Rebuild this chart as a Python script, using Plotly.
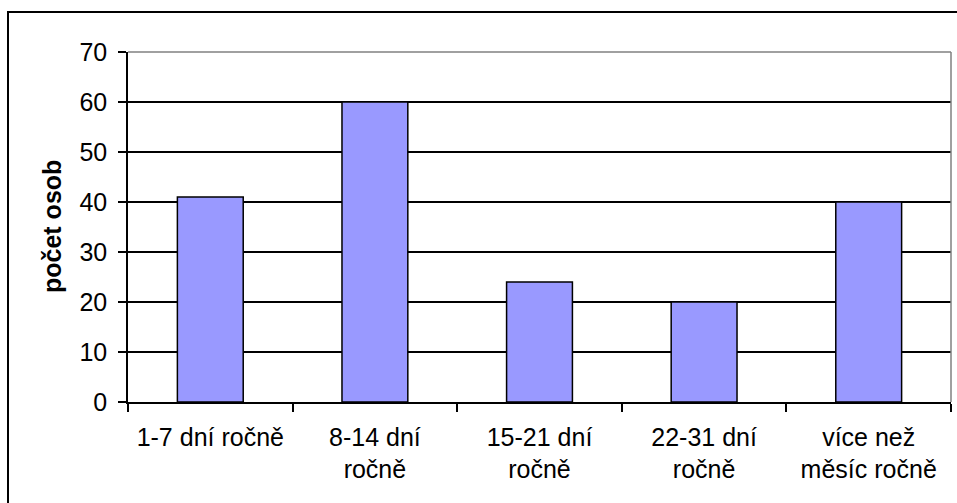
import plotly.graph_objects as go

# Počet osob podle délky pracovní neschopnosti za rok
categories = ["1-7 dní ročně", "8-14 dní ročně", "15-21 dní ročně", "22-31 dní ročně", "více než měsíc ročně"]
tick_labels = ["1-7 dní ročně", "8-14 dní<br>ročně", "15-21 dní<br>ročně", "22-31 dní<br>ročně", "více než<br>měsíc ročně"]
counts = [41, 60, 24, 20, 40]
y_ticks = [0, 10, 20, 30, 40, 50, 60, 70]

W, H = 957, 503
L, R, T, B = 128, 6, 52, 101
pw, ph = W - L - R, H - T - B

def px_x(x):
    return (x - L) / pw

def px_y(y):
    return (H - B - y) / ph

FONT = "Liberation Sans, Arial, sans-serif"
FS = 25

fig = go.Figure(
    go.Bar(
        x=categories,
        y=counts,
        width=0.4,
        marker=dict(color="#9999FF", line=dict(color="black", width=1.5)),
        showlegend=False,
    )
)

fig.update_layout(
    width=W,
    height=H,
    margin=dict(l=L, r=R, t=T, b=B),
    paper_bgcolor="white",
    plot_bgcolor="white",
    font=dict(family=FONT, size=FS, color="black"),
    bargap=0.6,
)

fig.update_xaxes(
    type="category",
    tickmode="array",
    tickvals=categories,
    ticktext=tick_labels,
    tickson="boundaries",
    ticks="outside",
    ticklen=8,
    tickwidth=1.5,
    tickcolor="black",
    showline=True,
    linecolor="black",
    linewidth=1.5,
    showgrid=False,
    ticklabelstandoff=12,
    tickfont=dict(size=FS),
)

fig.update_yaxes(
    range=[0, 70],
    tickvals=y_ticks,
    ticks="outside",
    ticklen=8,
    tickwidth=1.5,
    tickcolor="black",
    showline=True,
    linecolor="black",
    linewidth=1.5,
    showgrid=True,
    gridcolor="black",
    gridwidth=1.5,
    zeroline=False,
    ticklabelstandoff=6,
    tickfont=dict(size=FS),
)

# gray plot-area border on top and right
fig.add_shape(type="line", xref="paper", yref="paper", x0=0, x1=1, y0=1, y1=1,
              line=dict(color="#808080", width=1.5), layer="above")
fig.add_shape(type="line", xref="paper", yref="paper", x0=1, x1=1, y0=0, y1=1,
              line=dict(color="#808080", width=1.5), layer="above")

# outer chart frame
fig.add_shape(type="rect", xref="paper", yref="paper",
              x0=px_x(8), x1=px_x(W + 20), y0=px_y(H + 20), y1=px_y(12),
              line=dict(color="black", width=2), layer="above")

# y-axis title
fig.add_annotation(
    x=px_x(52), y=0.5, xref="paper", yref="paper",
    text="<b>počet osob</b>", textangle=-90, showarrow=False,
    font=dict(family=FONT, size=FS, color="black"),
    xanchor="center", yanchor="middle",
)

fig.write_html("out.html")
